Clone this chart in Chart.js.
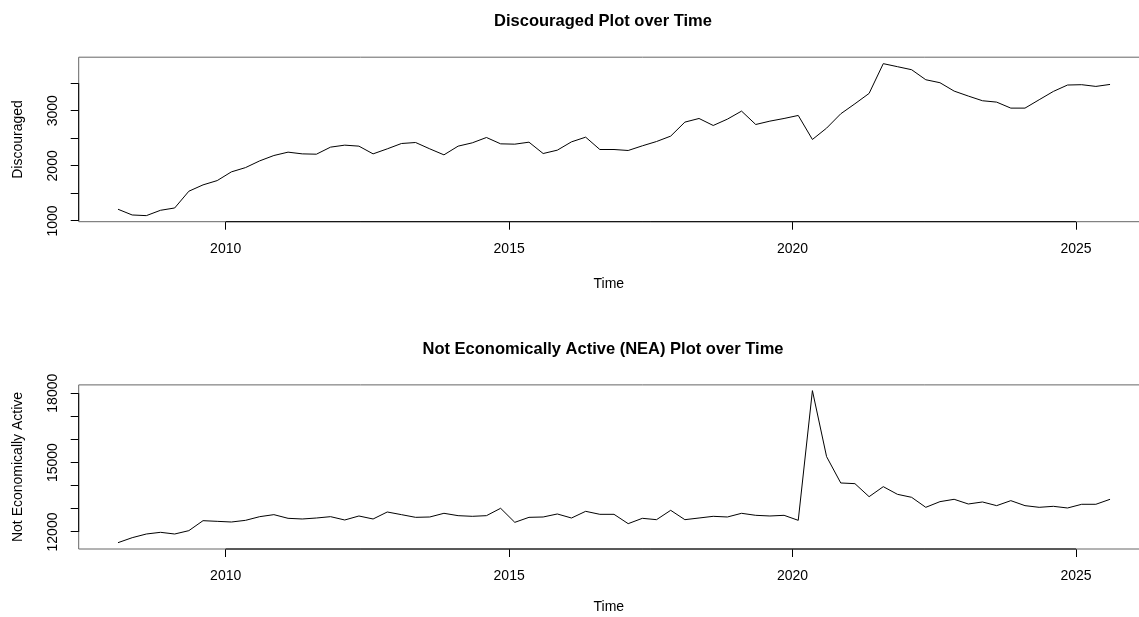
<!DOCTYPE html>
<html>
<head>
<meta charset="utf-8">
<script src="https://cdn.jsdelivr.net/npm/chart.js@4.4.1/dist/chart.umd.min.js"></script>
<style>
  html, body { margin: 0; padding: 0; background: #fff; overflow: hidden; width: 1139px; height: 617px; }
  #wrap { position: relative; width: 1139px; height: 617px; overflow: hidden; }
  canvas { position: absolute; left: 0; }
  #disc { top: 0; }
  #nea { top: 309px; }
</style>
</head>
<body>
<div id="wrap">
  <canvas id="disc" width="1206" height="309"></canvas>
  <canvas id="nea" width="1206" height="308"></canvas>
</div>
<script>
// Quarterly series (first observation and observations per year)
const startYear = 2008.1;
const quartersPerYear = 4;

// Discouraged workers (thousands)
const discouraged = [
  1213, 1109, 1097, 1194, 1236, 1540, 1655, 1733, 1891, 1969,
  2091, 2188, 2249, 2218, 2212, 2340, 2376, 2358, 2218, 2309,
  2406, 2424, 2309, 2200, 2358, 2418, 2515, 2400, 2394, 2430,
  2224, 2285, 2436, 2521, 2297, 2297, 2279, 2364, 2442, 2540,
  2794, 2860, 2733, 2848, 2994, 2751, 2812, 2860, 2915, 2479,
  2685, 2945, 3127, 3315, 3855, 3800, 3745, 3563, 3509, 3357,
  3267, 3182, 3157, 3048, 3048, 3200, 3351, 3467, 3473, 3442, 3478
];

// Not economically active population (thousands)
const notActive = [
  11538, 11754, 11913, 11986, 11913, 12058, 12489, 12461, 12432, 12504,
  12663, 12750, 12591, 12562, 12605, 12663, 12519, 12692, 12562, 12865,
  12750, 12634, 12649, 12808, 12706, 12678, 12706, 13025, 12418, 12634,
  12649, 12779, 12605, 12894, 12764, 12764, 12360, 12591, 12533, 12937,
  12533, 12605, 12678, 12649, 12808, 12721, 12692, 12721, 12504, 18111,
  15257, 14119, 14090, 13527, 13960, 13629, 13499, 13067, 13312, 13413,
  13211, 13298, 13139, 13355, 13139, 13067, 13110, 13038, 13198, 13198, 13413
];

// Axis ticks and which of them carry a label
const yearTicks = [2010, 2015, 2020, 2025];
const discTicks = [1000, 1500, 2000, 2500, 3000, 3500];
const discLabels = [1000, 2000, 3000];
const neaTicks = [12000, 13000, 14000, 15000, 16000, 17000, 18000];
const neaLabels = [12000, 15000, 18000];

const FONT = "'Liberation Sans', Arial, Helvetica, sans-serif";
const CANVAS_W = 1206;
const VIEW_W = 1139;

// Draws the plot frame (top/left/bottom) and the axis lines that run from first to last tick
const framePlugin = {
  id: 'frame',
  afterDatasetsDraw(chart) {
    const { ctx, chartArea: a, scales } = chart;
    const x = scales.x, y = scales.y;
    ctx.save();
    ctx.lineWidth = 1;
    ctx.strokeStyle = '#666';
    ctx.beginPath();
    ctx.moveTo(chart.width, a.top);
    ctx.lineTo(a.left, a.top);
    ctx.lineTo(a.left, a.bottom);
    ctx.lineTo(chart.width, a.bottom);
    ctx.stroke();
    const xt = x.ticks, yt = y.ticks;
    ctx.strokeStyle = '#000';
    ctx.beginPath();
    ctx.moveTo(x.getPixelForValue(xt[0].value), a.bottom);
    ctx.lineTo(x.getPixelForValue(xt[xt.length - 1].value), a.bottom);
    ctx.moveTo(a.left, y.getPixelForValue(yt[0].value));
    ctx.lineTo(a.left, y.getPixelForValue(yt[yt.length - 1].value));
    ctx.stroke();
    ctx.restore();
  }
};

function tickGrid() {
  return { display: true, drawOnChartArea: false, drawTicks: true, tickLength: 8, tickColor: '#000', tickWidth: 1 };
}

function makePanel(id, cfg) {
  const points = cfg.values.map((v, i) => ({ x: startYear + i / quartersPerYear, y: v }));
  return new Chart(document.getElementById(id), {
    type: 'line',
    data: {
      datasets: [{
        data: points,
        xAxisID: 'x',
        yAxisID: 'y',
        borderColor: '#000',
        borderWidth: 1,
        pointRadius: 0,
        fill: false,
        tension: 0
      }]
    },
    options: {
      responsive: false,
      animation: false,
      devicePixelRatio: 1,
      layout: { padding: 0 },
      plugins: {
        legend: { display: false },
        tooltip: { enabled: false },
        title: {
          display: true,
          text: cfg.title,
          color: '#000',
          font: { family: FONT, size: 16.5, weight: 'bold', lineHeight: 1.2 },
          padding: { top: cfg.titleTop, bottom: cfg.titleBottom }
        }
      },
      scales: {
        x: {
          type: 'linear',
          position: 'bottom',
          min: 2007.407,
          max: 2026.111,
          afterBuildTicks: s => { s.ticks = yearTicks.map(v => ({ value: v })); },
          afterFit: s => { s.height = cfg.xAxisHeight; },
          grid: tickGrid(),
          border: { display: false },
          ticks: {
            color: '#000',
            font: { family: FONT, size: 14, lineHeight: 1.2 },
            padding: 11.2,
            minRotation: 0,
            maxRotation: 0,
            autoSkip: false,
            callback: v => String(v)
          },
          title: {
            display: true,
            text: 'Time',
            color: '#000',
            font: { family: FONT, size: 14, lineHeight: 1.2 },
            padding: { top: 0, bottom: cfg.timePad }
          }
        },
        y: {
          type: 'linear',
          position: 'left',
          min: cfg.yMin,
          max: cfg.yMax,
          afterBuildTicks: s => { s.ticks = cfg.ticks.map(v => ({ value: v })); },
          afterFit: s => { s.width = 78.7; },
          grid: tickGrid(),
          border: { display: false },
          ticks: {
            color: '#000',
            font: { family: FONT, size: 14, lineHeight: 1.2 },
            minRotation: 90,
            maxRotation: 90,
            crossAlign: 'center',
            padding: cfg.yTickPad,
            autoSkip: false,
            callback: v => (cfg.labels.includes(v) ? String(v) : '')
          },
          title: {
            display: true,
            text: cfg.yTitle,
            color: '#000',
            font: { family: FONT, size: 14, lineHeight: 1.2 },
            padding: { top: 9.6, bottom: 0 }
          }
        },
        yr: {
          type: 'linear',
          position: 'right',
          display: true,
          grid: { display: false },
          ticks: { display: false },
          border: { display: false },
          afterFit: s => { s.width = CANVAS_W - VIEW_W; }
        }
      }
    },
    plugins: [framePlugin]
  });
}

makePanel('disc', {
  title: 'Discouraged Plot over Time',
  yTitle: 'Discouraged',
  values: discouraged,
  ticks: discTicks,
  labels: discLabels,
  yMin: 987,
  yMax: 3972,
  titleTop: 11.1,
  titleBottom: 26.3,
  xAxisHeight: 309 - 221.7,
  timePad: 16.1,
  yTickPad: 1.8
});

makePanel('nea', {
  title: 'Not Economically Active (NEA) Plot over Time',
  yTitle: 'Not Economically Active',
  values: notActive,
  ticks: neaTicks,
  labels: neaLabels,
  yMin: 11265,
  yMax: 18359,
  titleTop: 30.8,
  titleBottom: 25.3,
  xAxisHeight: 308 - 240,
  timePad: 1.1,
  yTickPad: -2.3
});
</script>
</body>
</html>
